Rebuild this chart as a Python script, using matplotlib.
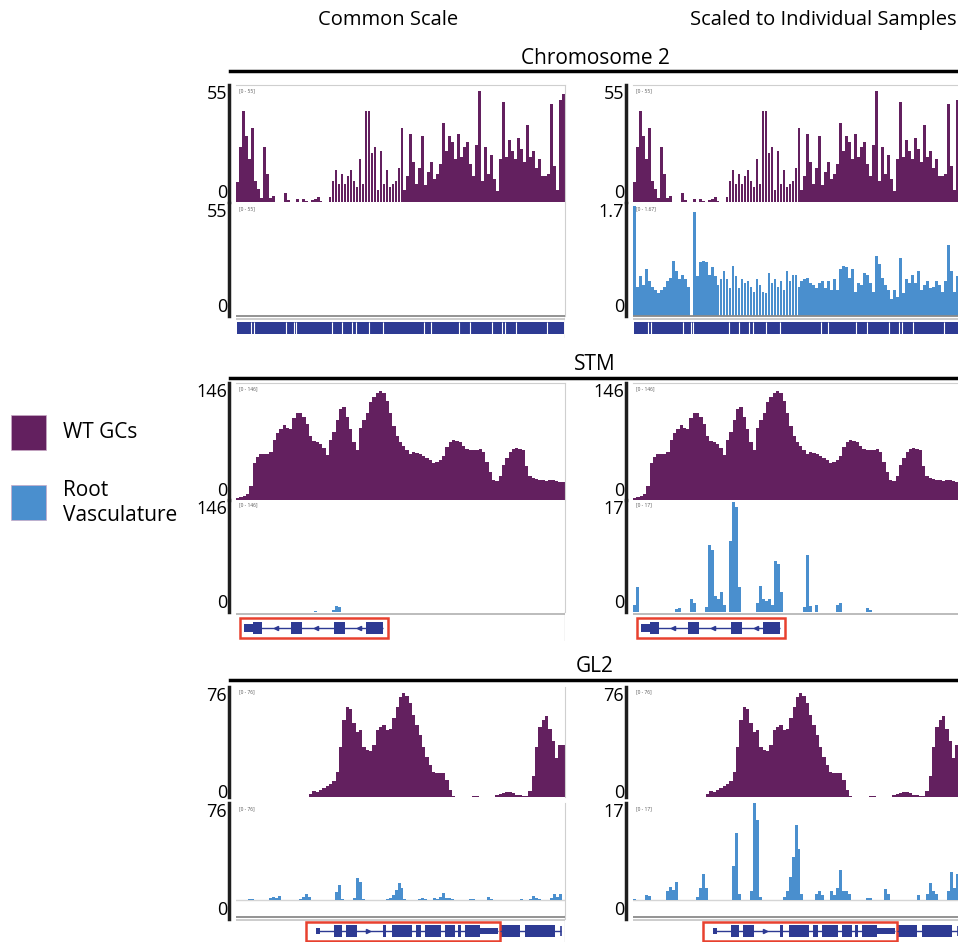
import matplotlib
matplotlib.use('Agg')
import matplotlib.pyplot as plt
from matplotlib.patches import Rectangle
from matplotlib.lines import Line2D
import numpy as np

plt.rcParams['font.family'] = ['Open Sans', 'DejaVu Sans']

purple = '#63205f'
blue = '#4a8fce'
navy = '#2d3a93'
red = '#e8412f'
frame = '#cfcfcf'

# every window is split into 110 bins
n_bins = 110

# Chromosome 2 (one value per bin)
chr2_wt = [9.5, 26, 43, 31, 20, 35, 10, 6, 2, 26,
           13, 2, 3, 0, 0, 0, 4, 1, 0, 0,
           1.5, 0, 1.5, 0.5, 0, 1, 1.5, 2.5, 0.5, 0,
           0, 2.5, 10, 15, 8.5, 13, 8.5, 12, 15, 10,
           7, 20, 8.5, 43, 43, 23, 26, 5.5, 24, 8.5,
           15, 7, 8.5, 10, 16, 35, 5.5, 12, 32, 19,
           8.5, 16, 31, 8, 14, 19, 11, 13, 18, 37,
           24, 31, 28, 20, 32, 21, 26, 28, 18, 12,
           27, 52, 10, 26, 13, 22, 11, 5, 20, 47,
           21, 29, 24, 20, 30, 25, 19, 36, 21, 24,
           16, 20, 12, 12, 13, 46, 17, 5.5, 48, 51]
chr2_root = [1.65, 0.44, 0.6, 0.47, 0.7, 0.52, 0.44, 0.39, 0.34, 0.39,
             0.44, 0.52, 0.57, 0.83, 0.68, 0.55, 0.62, 0.55, 0.44, 0.0,
             1.56, 0.6, 0.81, 0.82, 0.81, 0.62, 0.73, 0.6, 0.47, 0.55,
             0.68, 0.55, 0.42, 0.75, 0.6, 0.42, 0.55, 0.49, 0.52, 0.44,
             0.36, 0.55, 0.47, 0.36, 0.34, 0.65, 0.49, 0.55, 0.44, 0.52,
             0.39, 0.68, 0.52, 0.62, 0.62, 0.44, 0.52, 0.55, 0.57, 0.49,
             0.47, 0.42, 0.49, 0.52, 0.42, 0.52, 0.39, 0.55, 0.39, 0.7,
             0.75, 0.73, 0.57, 0.7, 0.36, 0.49, 0.47, 0.65, 0.62, 0.49,
             0.36, 0.91, 0.78, 0.57, 0.47, 0.39, 0.26, 0.39, 0.29, 0.88,
             0.34, 0.55, 0.49, 0.62, 0.49, 0.68, 0.39, 0.47, 0.52, 0.42,
             0.44, 0.52, 0.47, 0.36, 0.52, 1.07, 0.68, 0.36, 0.6, 0.5]
chr2_gene_gaps = [5, 6, 16.7, 19.3, 20, 32, 35.5, 38.8, 40, 44.5, 49,
                  62.7, 65.3, 74.5, 78.3, 85.5, 89, 90, 93.5, 104]

# STM locus
stm_wt = [2, 4, 5, 8, 17, 46, 54, 58, 58, 58,
          60, 75, 83, 88, 94, 90, 88, 102, 108, 108,
          103, 95, 80, 74, 72, 70, 65, 56, 75, 85,
          100, 114, 116, 104, 88, 72, 62, 90, 100, 108,
          122, 128, 134, 136, 133, 124, 108, 92, 80, 72,
          68, 62, 58, 60, 59, 58, 55, 53, 50, 46,
          48, 50, 55, 66, 72, 75, 74, 72, 67, 64,
          62, 63, 63, 64, 60, 48, 35, 25, 24, 30,
          44, 52, 60, 64, 65, 64, 62, 42, 30, 27,
          26, 25, 25, 24, 25, 25, 24, 23, 22]
stm_root_bins = [0, 1, 14, 15, 19, 20, 24, 25, 26, 27, 28, 29, 30, 32, 33, 34, 35,
                 41, 42, 43, 44, 45, 46, 47, 48, 49, 57, 58, 59, 61, 68, 69, 78, 79]
stm_root_vals = [1.0, 3.8, 0.5, 0.6, 2.0, 1.3, 0.8, 10.2, 9.4, 2.4, 2.0, 3.0, 1.0,
                 10.8, 16.7, 15.9, 3.8, 1.3, 4.0, 2.0, 1.6, 1.9, 1.0, 7.8, 7.3, 3.0,
                 0.8, 8.6, 0.9, 1.1, 1.0, 1.3, 0.6, 0.3]
stm_root_common_bins = [25, 26, 32, 33, 34]
stm_root_common_vals = [0.6, 0.8, 2.0, 7.5, 6.0]

stm_utrs = [(2.8, 5.8)]
stm_exons = [(5.8, 8.8), (18.3, 22.0), (32.7, 36.3), (43.3, 49.3)]
stm_line = (2.8, 49.3)
stm_arrows = [13.5, 26.8, 41.0]
stm_box = (1.5, 50.7)

# GL2 locus
gl2_wt = [0, 0, 0, 0, 0, 0, 0, 0, 0, 0,
          0, 0, 0, 0, 0, 0, 0, 0, 0, 0,
          0, 0, 2.0, 4.0, 3.8, 5.0, 6.5, 7.5, 8.8, 10.8,
          17, 34.6, 53.5, 62, 61, 51, 45, 46, 34.6, 32.6,
          32, 36, 46, 48.5, 49.7, 46, 47, 54.7, 62, 69,
          72, 70, 64.8, 57, 49.7, 42.7, 34.6, 27.6, 22, 17.6,
          16.6, 16.6, 16.3, 11.5, 5, 0.8, 0, 0, 0, 0,
          0, 0.8, 0.8, 0, 0, 0, 0, 0, 1.5, 2,
          2.8, 3.3, 3.3, 2.5, 1.5, 1.3, 1, 1, 4, 14.6,
          34.6, 48.5, 53.5, 56, 47, 38.4, 27, 36, 36]
gl2_root_bins = [0, 4, 5, 11, 12, 13, 14, 21, 22, 23, 24, 33, 34, 35, 39, 40, 41, 42,
                 50, 51, 52, 53, 54, 55, 56, 61, 62, 63, 66, 67, 68, 69, 70, 71, 72,
                 78, 79, 84, 85, 95, 98, 99, 100, 101, 105, 106, 107, 108]
gl2_root_vals = [0.2, 0.8, 0.6, 1.5, 2.2, 1.7, 3.1, 0.5, 2.0, 4.5, 2.0, 6.0, 11.7, 1.0,
                 1.5, 17.0, 14.0, 0.5, 0.5, 1.5, 4.0, 7.5, 13.2, 9.0, 1.0, 1.0, 1.6, 0.8,
                 1.6, 0.8, 2.0, 5.2, 1.5, 1.6, 1.0, 0.4, 0.4, 1.9, 1.0, 0.8, 1.0, 3.0,
                 1.5, 1.0, 1.5, 4.9, 2.0, 4.5]

gl2_utrs = [(26.7, 28.0), (81.7, 87.7)]
gl2_exons = [(32.7, 35.3), (36.7, 40.5), (49.0, 50.3), (52.3, 58.7), (60.3, 61.7),
             (63.3, 68.7), (70.0, 73.3), (74.3, 75.3), (76.7, 81.7)]
gl2_line = (26.7, 87.7)
gl2_arrows = [44.3]
gl2_box = (23.3, 88.3)
next_exons = [(88.3, 95.0), (96.7, 106.7)]
next_line = (88.3, 108.5)

W, H = 958, 942
fig = plt.figure(figsize=(W / 100, H / 100), dpi=100)


def px_axes(x0, y0, x1, y1):
    return fig.add_axes([x0 / W, 1 - y1 / H, (x1 - x0) / W, (y1 - y0) / H])


def track(x0, y0, y1, xs, vals, width, color, top, rng, labels,
          lo=0.0, frame_top=True, baseline=False, zero_shift=0):
    ax = px_axes(x0, y0, x0 + 329, y1)
    ax.patch.set_alpha(0)
    ax.bar(xs, vals, width=width, align='edge', color=color, linewidth=0)
    if baseline:
        ax.axhline(0, color='#d5d5d5', lw=1, zorder=0)
    ax.set_xlim(0, n_bins)
    ax.set_ylim(lo, top)
    ax.set_xticks([])
    ax.set_yticks([])
    # scale labels beside the left rule
    ax.annotate(labels[1], (0, 1), xycoords='axes fraction', xytext=(-9, 0),
                textcoords='offset pixels', ha='right', va='top', fontsize=13)
    ax.annotate(labels[0], (0, 0), xycoords='axes fraction', xytext=(-9, zero_shift),
                textcoords='offset pixels', ha='right', va='bottom', fontsize=13)
    ax.spines['left'].set_position(('outward', 5))
    ax.spines['left'].set_linewidth(2.5)
    ax.spines['left'].set_color('#1e1e1e')
    ax.spines['top'].set_visible(frame_top)
    ax.spines['top'].set_color(frame)
    ax.spines['right'].set_color(frame)
    ax.spines['bottom'].set_visible(False)
    ax.text(0.01, 0.975, rng, transform=ax.transAxes, fontsize=3.5,
            color='#555555', va='top', ha='left')
    return ax


def gene_axes(x0, y0, y1):
    ax = px_axes(x0, y0, x0 + 329, y1)
    ax.patch.set_alpha(0)
    ax.set_xlim(0, n_bins)
    ax.set_ylim(y1 - y0, 0)
    ax.axis('off')
    ax.axvline(n_bins, color=frame, lw=1)
    return ax


def gene_model(ax, utrs, exons, line, arrows, mid, thick, thin, marker):
    ax.hlines(mid, line[0], line[1], color=navy, lw=1)
    for a, b in utrs:
        ax.add_patch(Rectangle((a, mid - thin / 2), b - a, thin, color=navy, lw=0))
    for a, b in exons:
        ax.add_patch(Rectangle((a, mid - thick / 2), b - a, thick, color=navy, lw=0))
    ax.plot(arrows, [mid] * len(arrows), ls='none', marker=marker, ms=3, color=navy)


bins = np.arange(n_bins)
stm_x = np.arange(len(stm_wt)) * n_bins / len(stm_wt)
gl2_x = np.arange(len(gl2_wt)) * n_bins / len(gl2_wt)

for x0 in [236, 633]:
    right = x0 > 400

    # Chromosome 2
    track(x0, 85, 202, bins, chr2_wt, 0.92, purple, 55, '[0 - 55]', ['0', '55'])
    if right:
        track(x0, 203, 316, bins, chr2_root, 0.92, blue, 1.7, '[0 - 1.67]',
              ['0', '1.7'], frame_top=False)
    else:
        track(x0, 203, 316, [], [], 1.0, blue, 55, '[0 - 55]',
              ['0', '55'], frame_top=False)
    g = gene_axes(x0, 315, 338)
    g.axhline(1, color='#8a8a8a', lw=1.3)
    g.axhline(4, color='#c8c8c8', lw=1.3)
    g.add_patch(Rectangle((0.2, 7), n_bins - 0.6, 12, color=navy, lw=0))
    g.vlines(chr2_gene_gaps, 7, 19, color='white', lw=0.8)

    # STM
    track(x0, 383, 500, stm_x, stm_wt, n_bins / len(stm_wt), purple, 146,
          '[0 - 146]', ['0', '146'])
    if right:
        track(x0, 500, 612, stm_root_bins, stm_root_vals, 1.0, blue, 17,
              '[0 - 17]', ['0', '17'], frame_top=False)
    else:
        track(x0, 500, 612, stm_root_common_bins, stm_root_common_vals, 1.0, blue,
              146, '[0 - 146]', ['0', '146'], frame_top=False)
    g = gene_axes(x0, 612, 641)
    g.axhline(1.5, color='#b0b0b0', lw=1.2)
    gene_model(g, stm_utrs, stm_exons, stm_line, stm_arrows, 16, 12, 8, '<')
    g.add_patch(Rectangle((stm_box[0], 6), stm_box[1] - stm_box[0], 20,
                          fill=False, ec=red, lw=1.8, clip_on=False))

    # GL2
    track(x0, 687, 797, gl2_x, gl2_wt, n_bins / len(gl2_wt), purple, 76,
          '[0 - 76]', ['0', '76'], frame_top=False, zero_shift=-5)
    top = 17 if right else 76
    lo = -top * 19 / 96
    track(x0, 803, 919, gl2_root_bins, gl2_root_vals, 1.0, blue, top,
          '[0 - %d]' % top, ['0', str(top)], lo=lo, frame_top=False, baseline=True)
    g = gene_axes(x0, 915, 942)
    g.axhline(2, color='#8a8a8a', lw=1.3)
    g.axhline(5, color='#c8c8c8', lw=1.3)
    gene_model(g, gl2_utrs, gl2_exons, gl2_line, gl2_arrows, 16, 12, 6, '>')
    gene_model(g, [], next_exons, next_line, [], 16, 12, 6, '<')
    g.vlines(next_line[1], 11, 21, color=navy, lw=1.2)
    g.add_patch(Rectangle((gl2_box[0], 7), gl2_box[1] - gl2_box[0], 19,
                          fill=False, ec=red, lw=1.8, clip_on=False))

# column headers
fig.text(388 / W, 1 - 20 / H, 'Common Scale', ha='center', va='center', fontsize=14.5)
fig.text(823 / W, 1 - 20 / H, 'Scaled to Individual Samples', ha='center',
         va='center', fontsize=14.5)

# section titles with rules underneath
for name, y in [('Chromosome 2', 58), ('STM', 365), ('GL2', 667)]:
    fig.text(595 / W, 1 - y / H, name, ha='center', va='center', fontsize=15)
    fig.add_artist(Line2D([230 / W, 1.0], [1 - (y + 13) / H] * 2,
                          color='black', lw=2.5))

# legend
for label, color, y in [('WT GCs', purple, 415), ('Root\nVasculature', blue, 485)]:
    fig.add_artist(Rectangle((11 / W, 1 - (y + 35) / H), 35 / W, 35 / H,
                             transform=fig.transFigure, fc=color, ec='#c9a9c6', lw=0.5))
    fig.text(63 / W, 1 - (y + 18) / H, label, ha='left', va='center',
             fontsize=15, linespacing=1.25)

fig.savefig('out.png', dpi=100)
